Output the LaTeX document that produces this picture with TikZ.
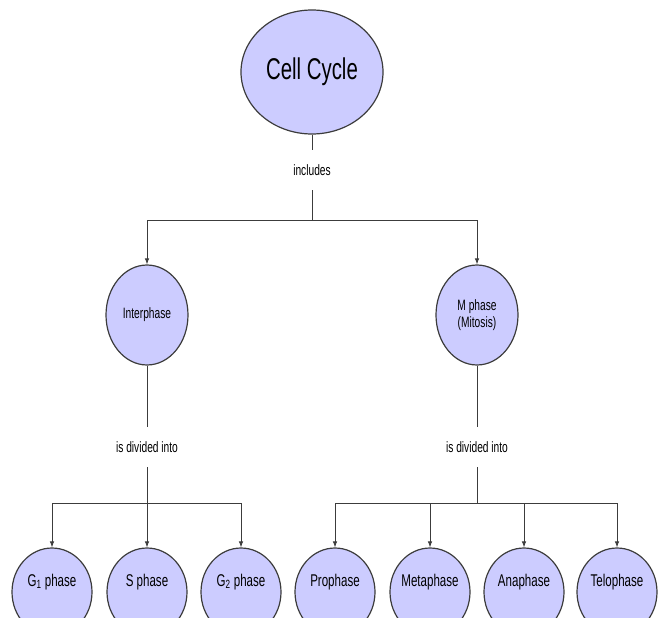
\documentclass[tikz,border=0pt]{standalone}
\usepackage{fontspec}
\newfontfamily\labfont[FakeStretch=0.68]{Liberation Sans}
\usetikzlibrary{shapes.geometric,arrows.meta}
\definecolor{cellfill}{RGB}{204,204,255}
\definecolor{edgegray}{RGB}{60,60,60}
\tikzset{
  bubble/.style={ellipse,draw=edgegray,line width=1.2pt,fill=cellfill,inner sep=0pt},
  leaf/.style={bubble,minimum width=80pt,minimum height=88pt},
  mid/.style={bubble,minimum width=82pt,minimum height=100pt,align=center,
    font=\labfont\fontsize{15}{17}\selectfont},
  linklabel/.style={inner sep=0pt,minimum height=40pt,
    font=\labfont\fontsize{15}{17}\selectfont},
  conn/.style={draw=edgegray,line width=0.8pt},
  arr/.style={conn,-{Latex[length=6pt,width=4.5pt]}},
  leaftext/.style={font=\labfont\fontsize{17}{20}\selectfont}
}
\begin{document}
\begin{tikzpicture}[x=1pt,y=-1pt]
\useasboundingbox (0,0) rectangle (659,618);
\clip (0,0) rectangle (659,618);
% top
\node[bubble,minimum width=142pt,minimum height=124pt,
  font=\labfont\fontsize{30}{34}\selectfont] (cc) at (312,72) {Cell Cycle};
\node[linklabel] (inc) at (312,170) {includes};
\coordinate (j1) at (312,220);
\node[mid] (inter) at (147,315) {Interphase};
\node[mid] (mph) at (477,315) {M phase\\(Mitosis)};
\draw[conn] (cc.south) -- (inc.north);
\draw[conn] (inc.south) -- (j1);
\coordinate (j1l) at (147,220);
\coordinate (j1r) at (477,220);
\draw[conn] (j1l) -- (j1r);
\draw[arr] (j1l) -- (inter.north);
\draw[arr] (j1r) -- (mph.north);
% second level labels
\node[linklabel] (divl) at (147,447) {is divided into};
\node[linklabel] (divr) at (477,447) {is divided into};
\draw[conn] (inter.south) -- (divl.north);
\draw[conn] (mph.south) -- (divr.north);
\coordinate (jl) at (147,503);
\coordinate (jr) at (477,503);
\draw[conn] (divl.south) -- (jl);
\draw[conn] (divr.south) -- (jr);
% leaves
\node[leaf,label={[leaftext,yshift=10pt]center:G\textsubscript{1} phase}] (g1) at (52,592) {};
\node[leaf,label={[leaftext,yshift=10pt]center:S phase}] (s) at (147,592) {};
\node[leaf,label={[leaftext,yshift=10pt]center:G\textsubscript{2} phase}] (g2) at (241,592) {};
\node[leaf,label={[leaftext,yshift=10pt]center:Prophase}] (pro) at (335,592) {};
\node[leaf,label={[leaftext,yshift=10pt]center:Metaphase}] (meta) at (430,592) {};
\node[leaf,label={[leaftext,yshift=10pt]center:Anaphase}] (ana) at (524,592) {};
\node[leaf,label={[leaftext,yshift=10pt]center:Telophase}] (telo) at (617,592) {};
\draw[conn] (g1.north |- jl) -- (g2.north |- jl);
\draw[conn] (pro.north |- jr) -- (telo.north |- jr);
\foreach \n in {g1,s,g2}{\draw[arr] (\n.north |- jl) -- (\n.north);}
\foreach \n in {pro,meta,ana,telo}{\draw[arr] (\n.north |- jr) -- (\n.north);}
\end{tikzpicture}
\end{document}
